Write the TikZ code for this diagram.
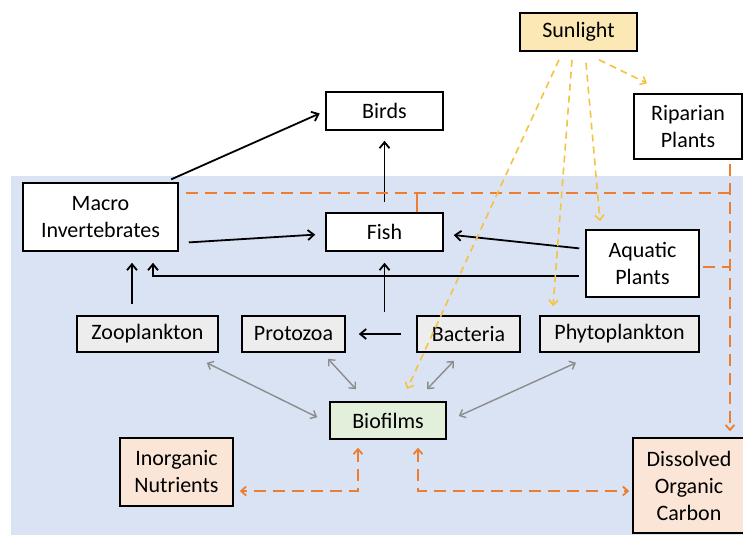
\documentclass[tikz,border=0pt]{standalone}
\usepackage{fontspec}
\setmainfont{Carlito}
\usetikzlibrary{arrows.meta}

\definecolor{waterblue}{HTML}{DAE3F3}
\definecolor{sunfill}{HTML}{FCE8B5}
\definecolor{planktongrey}{HTML}{EDEDED}
\definecolor{filmgreen}{HTML}{E2EFDA}
\definecolor{peachfill}{HTML}{FBE5D6}
\definecolor{docorange}{HTML}{ED7D31}
\definecolor{sunyellow}{HTML}{F5C242}
\definecolor{arrowgrey}{HTML}{8C8C8C}

\begin{document}
\begin{tikzpicture}[x=1pt,y=-1pt,>={Straight Barb[length=6pt,width=10pt]},
  box/.style={draw=black,line width=1.6pt,fill=white,inner sep=0pt,align=center,font=\fontsize{22}{27}\selectfont},
  plankton box/.style={box,fill=planktongrey,minimum height=36pt},
  food arrow/.style={->,line width=1.8pt,black},
  exchange arrow/.style={<->,line width=1.4pt,arrowgrey,>={Straight Barb[length=5pt,width=9pt]}},
  doc line/.style={line width=1.8pt,docorange,dash pattern=on 12pt off 7pt,>={Straight Barb[length=5pt,width=9pt]}},
  light arrow/.style={->,line width=1.6pt,sunyellow,dash pattern=on 7pt off 5pt,>={Straight Barb[length=5pt,width=9pt]}}]
    \useasboundingbox (0,0) rectangle (743,535);
    \fill[waterblue] (11,176) rectangle (743,535);

    \node[box,fill=sunfill,minimum width=117pt,minimum height=38pt] (sun) at (578.5,32) {Sunlight};
    \node[box,minimum width=108pt,minimum height=65pt] (riparian) at (688,126.5) {Riparian\\Plants};
    \node[box,minimum width=117pt,minimum height=38pt] (birds) at (384.5,111) {Birds};
    \node[box,minimum width=155pt,minimum height=68pt] (macro) at (100.5,217) {Macro\\Invertebrates};
    \node[box,minimum width=117pt,minimum height=38pt] (fish) at (384.5,232) {Fish};
    \node[box,minimum width=113pt,minimum height=67pt] (aquatic) at (642.5,263.5) {Aquatic\\Plants};
    \node[plankton box,minimum width=141pt] (zoo) at (147.5,334) {Zooplankton};
    \node[plankton box,minimum width=103pt] (protozoa) at (293.5,334) {Protozoa};
    \node[plankton box,minimum width=103pt] (bacteria) at (468.5,334) {Bacteria};
    \node[plankton box,minimum width=159pt] (phyto) at (619.5,334) {Phytoplankton};
    \node[box,fill=filmgreen,minimum width=116pt,minimum height=37pt] (bio) at (388,420.5) {Biofilms};
    \node[box,fill=peachfill,minimum width=113pt,minimum height=68pt] (inorg) at (176.5,472) {Inorganic\\Nutrients};
    \node[box,fill=peachfill,minimum width=112pt,minimum height=95pt] (doc) at (689,485.5) {Dissolved\\Organic\\Carbon};

    \coordinate (pb) at (384.5,312);
    \coordinate (j1) at (730,193);

    % food web
    \draw[food arrow,shorten <=7pt,shorten >=6pt] ([xshift=-14pt]macro.north east) -- (birds.west);
    \draw[food arrow,shorten <=10pt,shorten >=10pt] (fish.north) -- (birds.south);
    \draw[food arrow,shorten <=10pt,shorten >=10pt] ([yshift=-26pt]macro.east) -- ([yshift=-2pt]fish.west);
    \draw[food arrow,shorten <=6pt,shorten >=10pt] ([yshift=14.5pt]aquatic.west) -- ([yshift=-2pt]fish.east);
    \draw[food arrow,shorten <=6pt,shorten >=11pt] ([yshift=-12.5pt]aquatic.west) -| ([xshift=52.5pt]macro.south);
    \draw[food arrow,shorten <=11pt,shorten >=11pt] ([xshift=-15.5pt]zoo.north) -- ([xshift=31.5pt]macro.south);
    \draw[food arrow,shorten >=11pt] (pb) -- (fish.south);
    \draw[food arrow,shorten <=15pt,shorten >=13pt] (bacteria.west) -- (protozoa.east);

    % exchange with biofilms
    \draw[exchange arrow] ([shift={(-12pt,-10pt)}]zoo.south east) -- ([shift={(-12pt,-16pt)}]bio.north west);
    \draw[exchange arrow] ([shift={(34.5pt,-6pt)}]protozoa.south) -- ([shift={(-32pt,12pt)}]bio.north);
    \draw[exchange arrow] ([shift={(-14.5pt,-8pt)}]bacteria.south) -- ([shift={(39pt,12pt)}]bio.north);
    \draw[exchange arrow] ([shift={(-43.5pt,-10pt)}]phyto.south) -- ([shift={(12pt,4.5pt)}]bio.east);

    % dissolved organic carbon
    \draw[doc line,->,shorten <=4pt,shorten >=6pt] ([xshift=42pt]riparian.south) -- ([xshift=41pt]doc.north);
    \draw[doc line] ([shift={(7pt,24pt)}]macro.east) -- (j1);
    \draw[docorange,line width=1.8pt] ([xshift=32.5pt]fish.north) -- ([xshift=32.5pt,yshift=20pt]fish.north);
    \draw[doc line,shorten <=3pt] ([yshift=-3.5pt]aquatic.east) -- ++(31,0);
    \draw[doc line,<->,shorten <=8pt,shorten >=6pt] ([xshift=-30pt]bio.south) |- ([yshift=-19pt]inorg.east);
    \draw[doc line,<->,shorten <=8pt,shorten >=3pt] ([xshift=30pt]bio.south) |- ([yshift=-5.5pt]doc.west);

    % sunlight
    \path[light arrow]
        ([shift={(-19.5pt,-8pt)}]sun.south) edge ([shift={(19pt,12pt)}]bio.north)
        ([shift={(-6.5pt,-8pt)}]sun.south) edge ([shift={(-66.5pt,9pt)}]phyto.north)
        ([shift={(7.5pt,-11pt)}]sun.south) edge ([shift={(-42.5pt,8pt)}]aquatic.north)
        ([shift={(20.5pt,-8pt)}]sun.south) edge ([shift={(-41pt,10pt)}]riparian.north);
\end{tikzpicture}
\end{document}
